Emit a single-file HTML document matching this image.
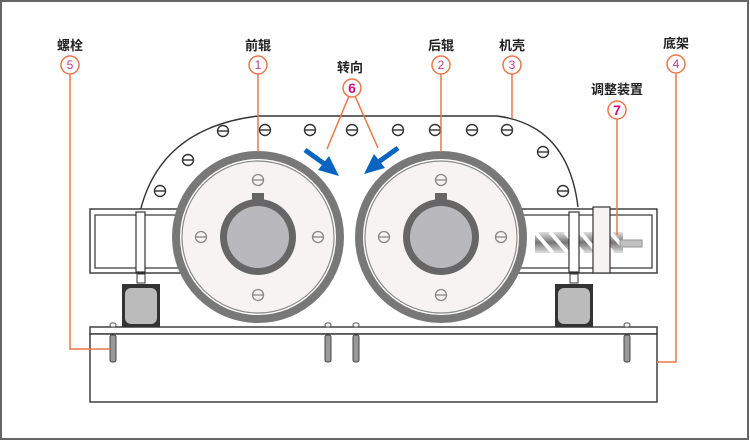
<!DOCTYPE html>
<html><head><meta charset="utf-8"><style>
html,body{margin:0;padding:0;background:#fff}
svg{display:block}
text{font-family:"Liberation Sans","Noto Sans CJK SC",sans-serif}
</style></head><body>
<svg width="750" height="441" viewBox="0 0 750 441" xmlns="http://www.w3.org/2000/svg">
<defs>
<g id="b"><circle r="5.5" fill="#fff" stroke="#333" stroke-width="1.4"/><line x1="-5" y1="0" x2="5" y2="0" stroke="#333" stroke-width="1.4"/></g>
<g id="bg"><circle r="5.5" fill="none" stroke="#888" stroke-width="1.3"/><line x1="-5" y1="0" x2="5" y2="0" stroke="#888" stroke-width="1.3"/></g>
<g id="roll">
<circle r="86" fill="#787878"/>
<circle r="78" fill="#fff"/>
<circle r="76" fill="#f8f3f3" stroke="#888" stroke-width="1.2"/>
<rect x="-6" y="-44" width="12" height="8" fill="#666"/>
<circle r="38" fill="#666"/>
<circle r="31" fill="#b9b9bd"/>
<use href="#bg" x="0" y="-57"/><use href="#bg" x="0" y="58"/><use href="#bg" x="-57" y="0"/><use href="#bg" x="60" y="0"/>
</g>
<g id="bolt"><rect x="-3" y="-12" width="6" height="4" rx="2" fill="#fff" stroke="#555"/><rect x="-3" y="0" width="6" height="27" rx="2" fill="#999" stroke="#444"/></g>
<linearGradient id="sg" x1="0" x2="0" y1="0" y2="1"><stop offset="0" stop-color="#ddd"/><stop offset="0.5" stop-color="#666"/><stop offset="1" stop-color="#ddd"/></linearGradient>
</defs>
<rect x="1" y="1" width="747" height="438" fill="#fff" stroke="#666" stroke-width="2"/>
<!-- housing -->
<path d="M140 212 Q160 128 258 116 L497 116 Q568 125 578 207" fill="#fff" stroke="#333" stroke-width="1.4"/>
<g>
<use href="#b" x="223" y="131"/><use href="#b" x="265" y="130"/><use href="#b" x="310" y="130"/><use href="#b" x="352" y="130"/><use href="#b" x="398" y="130"/><use href="#b" x="435" y="130"/><use href="#b" x="472" y="130"/><use href="#b" x="507" y="130"/><use href="#b" x="188" y="160"/><use href="#b" x="160" y="191"/><use href="#b" x="543" y="152"/><use href="#b" x="563" y="191"/>
</g>
<!-- side boxes -->
<rect x="90" y="209" width="110" height="64" fill="#fff" stroke="#333" stroke-width="1.4"/>
<rect x="95" y="215" width="100" height="53" fill="none" stroke="#333" stroke-width="1.2"/>
<rect x="136" y="212" width="9" height="60" fill="#fff" stroke="#333" stroke-width="1.2"/>
<rect x="505" y="209" width="152" height="64" fill="#fff" stroke="#333" stroke-width="1.4"/>
<rect x="505" y="215" width="147" height="53" fill="none" stroke="#333" stroke-width="1.2"/>
<!-- screw -->
<g opacity="0.9">
<rect x="535" y="232" width="88" height="21" fill="url(#sg)"/>
<path d="M535 232 l18 21 M550 232 l18 21 M565 232 l18 21 M580 232 l18 21 M595 232 l18 21 M610 232 l13 15" stroke="#fff" stroke-width="4"/>
<rect x="620" y="240" width="22" height="7" fill="#bbb" stroke="#888"/>
</g>
<rect x="569" y="212" width="10" height="60" fill="#fff" stroke="#333" stroke-width="1.2"/>
<rect x="593" y="207" width="17" height="66" fill="#f8f3f3" stroke="#333" stroke-width="1.2"/>
<!-- rollers -->
<use href="#roll" x="258" y="237"/>
<use href="#roll" x="441" y="237"/>
<!-- mounts -->
<rect x="122" y="284" width="38" height="44" fill="#333"/>
<rect x="125" y="288" width="32" height="36" rx="6" fill="#bbb"/>
<rect x="137" y="274" width="8" height="9" fill="#fff" stroke="#333"/>
<rect x="555" y="284" width="38" height="44" fill="#333"/>
<rect x="558" y="288" width="32" height="36" rx="6" fill="#bbb"/>
<rect x="570" y="274" width="8" height="9" fill="#fff" stroke="#333"/>
<!-- base -->
<rect x="90" y="327" width="567" height="7" fill="#fff" stroke="#333" stroke-width="1.4"/>
<rect x="90" y="334" width="567" height="68" fill="#fff" stroke="#333" stroke-width="1.4"/>
<use href="#bolt" x="113" y="335"/><use href="#bolt" x="328" y="335"/><use href="#bolt" x="356" y="335"/><use href="#bolt" x="627" y="335"/>
<!-- leaders -->
<g stroke="#e8784a" stroke-width="1.5" fill="none">
<path d="M70 74 V349 H110"/>
<path d="M258 74 V152"/>
<path d="M441 74 V152"/>
<path d="M512 74 V118"/>
<path d="M676 74 V362 H657"/>
<path d="M617 119 V235"/>
<path d="M349 96 L327 149 M355 96 L378 148"/>
</g>
<g fill="#fff" stroke="#e8784a" stroke-width="1.5">
<circle cx="70" cy="65" r="9"/><circle cx="258" cy="65" r="9"/><circle cx="441" cy="65" r="9"/><circle cx="512" cy="65" r="9"/><circle cx="676" cy="64" r="9"/><circle cx="352" cy="88" r="9"/><circle cx="617" cy="110" r="9"/>
</g>
<g font-family="Liberation Serif,serif" font-size="12" fill="#c03a8a" text-anchor="middle">
<text x="70" y="69">5</text><text x="258" y="69">1</text><text x="441" y="69">2</text><text x="512" y="69">3</text><text x="676" y="68">4</text>
</g>
<g font-size="14" font-weight="bold" fill="#d0107a" text-anchor="middle">
<text x="352" y="93">6</text><text x="617" y="115">7</text>
</g>
<g font-size="13" font-weight="bold" fill="#222" text-anchor="middle">
<text x="70" y="50">螺栓</text><text x="258" y="50">前辊</text><text x="350" y="72">转向</text><text x="441" y="50">后辊</text><text x="512" y="50">机壳</text><text x="676" y="48">底架</text><text x="617" y="94">调整装置</text>
</g>
<!-- blue arrows -->
<g fill="#0a64c0" stroke="#0a64c0">
<line x1="305" y1="150" x2="326" y2="165" stroke-width="5"/>
<polygon points="339,176 318,170 329,156" stroke="none"/>
<line x1="398" y1="148" x2="377" y2="163" stroke-width="5"/>
<polygon points="364,174 374,154 385,168" stroke="none"/>
</g>
</svg>
</body></html>
